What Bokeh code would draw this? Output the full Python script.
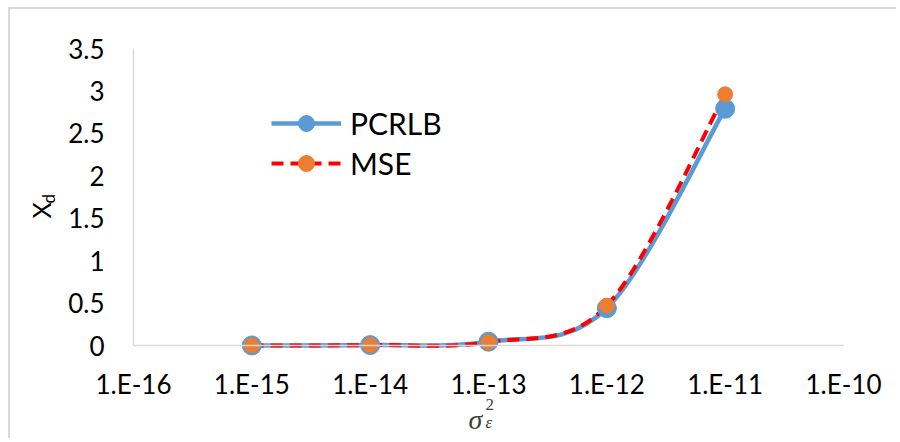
import numpy as np
from bokeh.plotting import figure
from bokeh.models import (Range1d, FixedTicker, CustomJSTickFormatter, NumeralTickFormatter,
                          Legend, LegendItem, Label, ColumnDataSource)
from bokeh.embed import file_html
from bokeh.resources import INLINE

# ---- data ----
x_vals = [1e-15, 1e-14, 1e-13, 1e-12, 1e-11]
pcrlb = [0.001, 0.005, 0.045, 0.44, 2.79]
mse = [0.001, 0.005, 0.04, 0.47, 2.96]
x_ticks = [1e-16, 1e-15, 1e-14, 1e-13, 1e-12, 1e-11, 1e-10]
y_ticks = [0, 0.5, 1, 1.5, 2, 2.5, 3, 3.5]
series_names = ["PCRLB", "MSE"]

BLUE = "#5B9BD5"
ORANGE = "#ED7D31"
RED = "#FF0000"
AXIS_GRAY = "#D9D9D9"
FONT = "Lato"

# ---- layout (pixels, relative to the canvas) ----
W, H = 888, 431
AX_X0, AX_X1 = 123, 833      # where x = 1e-16 and x = 1e-10 sit
AX_Y0, AX_Y1 = 95, 392       # where y = 0 and y = 3.5 sit (from canvas bottom)
ppd = (AX_X1 - AX_X0) / (np.log10(x_ticks[-1]) - np.log10(x_ticks[0]))
xmin = np.log10(x_ticks[0]) - AX_X0 / ppd
xmax = np.log10(x_ticks[-1]) + (W - AX_X1) / ppd
ppu = (AX_Y1 - AX_Y0) / (y_ticks[-1] - y_ticks[0])
ymin = y_ticks[0] - AX_Y0 / ppu
ymax = y_ticks[-1] + (H - AX_Y1) / ppu


def smooth_segments(xs, ys):
    """Bezier control points (Excel-like smoothing) computed in log10(x) space."""
    lx = np.log10(np.array(xs, dtype=float))
    y = np.array(ys, dtype=float)
    n = len(lx)
    d = {k: [] for k in ["x0", "y0", "x1", "y1", "cx0", "cy0", "cx1", "cy1"]}
    for i in range(n - 1):
        a = max(i - 1, 0)
        b = min(i + 2, n - 1)
        c1x = lx[i] + (lx[i + 1] - lx[a]) / 6.0
        c1y = y[i] + (y[i + 1] - y[a]) / 6.0
        c2x = lx[i + 1] - (lx[b] - lx[i]) / 6.0
        c2y = y[i + 1] - (y[b] - y[i]) / 6.0
        d["x0"].append(10 ** lx[i]); d["y0"].append(y[i])
        d["x1"].append(10 ** lx[i + 1]); d["y1"].append(y[i + 1])
        d["cx0"].append(10 ** c1x); d["cy0"].append(c1y)
        d["cx1"].append(10 ** c2x); d["cy1"].append(c2y)
    return ColumnDataSource(d)


p = figure(width=W, height=H, x_axis_type="log",
           x_range=Range1d(10 ** xmin, 10 ** xmax), y_range=Range1d(ymin, ymax),
           output_backend="svg", toolbar_location=None,
           min_border=0, min_border_left=0, min_border_right=0,
           min_border_top=0, min_border_bottom=0)
p.styles = {"margin-left": "8px", "margin-top": "7px",
            "border-left": "2px solid #D9D9D9", "border-top": "2px solid #D9D9D9"}
p.outline_line_color = None
p.background_fill_color = "white"
p.border_fill_color = "white"
p.xgrid.visible = False
p.ygrid.visible = False

# axes (fixed inside the frame)
p.xaxis.fixed_location = y_ticks[0]
p.xaxis.bounds = (x_ticks[0], x_ticks[-1])
p.yaxis.fixed_location = x_ticks[0]
p.yaxis.bounds = (y_ticks[0], y_ticks[-1])
p.xaxis.ticker = FixedTicker(ticks=x_ticks)
p.xaxis.formatter = CustomJSTickFormatter(code="return '1.E' + Math.round(Math.log10(tick));")
p.yaxis.ticker = FixedTicker(ticks=y_ticks)
p.yaxis.formatter = NumeralTickFormatter(format="0.[0]")
for ax in (p.xaxis, p.yaxis):
    ax.axis_line_color = AXIS_GRAY
    ax.axis_line_width = 1.5
    ax.major_tick_line_color = None
    ax.minor_tick_line_color = None
    ax.major_label_text_font = FONT
    ax.major_label_text_font_size = "26px"
    ax.major_label_text_color = "#000000"
p.xaxis.major_label_standoff = 16
p.yaxis.major_label_standoff = 23

# lines (smoothed)
src_p = smooth_segments(x_vals, pcrlb)
src_m = smooth_segments(x_vals, mse)
line_p = p.bezier(x0="x0", y0="y0", x1="x1", y1="y1", cx0="cx0", cy0="cy0", cx1="cx1", cy1="cy1",
                  source=src_p, line_color=BLUE, line_width=4.5)
line_m = p.bezier(x0="x0", y0="y0", x1="x1", y1="y1", cx0="cx0", cy0="cy0", cx1="cx1", cy1="cy1",
                  source=src_m, line_color=RED, line_width=4, line_dash="12 7")
mk_p = p.scatter(x_vals, pcrlb, size=19, marker="circle", fill_color=BLUE, line_color=BLUE)
mk_m = p.scatter(x_vals, mse, size=15, marker="circle", fill_color=ORANGE, line_color=ORANGE)

# legend
legend = Legend(items=[LegendItem(label=series_names[0], renderers=[line_p, mk_p]),
                       LegendItem(label=series_names[1], renderers=[line_m, mk_m])],
                location=(261, 257), orientation="vertical")
legend.glyph_width = 70
legend.glyph_height = 40
legend.label_height = 40
legend.label_standoff = 9
legend.spacing = 0
legend.padding = 0
legend.margin = 0
legend.border_line_color = None
legend.background_fill_alpha = 0
legend.label_text_font = FONT
legend.label_text_font_size = "30px"
legend.label_text_color = "#000000"
legend.label_text_baseline = "middle"
p.add_layout(legend, "center")

# x-axis title: sigma_epsilon^2
p.add_layout(Label(x=458, y=21, x_units="screen", y_units="screen", text="σ",
                   text_font="Liberation Serif", text_font_style="italic", text_font_size="28px",
                   text_color="#404040", text_baseline="alphabetic"))
p.add_layout(Label(x=475, y=18, x_units="screen", y_units="screen", text="ε",
                   text_font="Liberation Serif", text_font_style="italic", text_font_size="17px",
                   text_color="#404040", text_baseline="alphabetic"))
p.add_layout(Label(x=475, y=36, x_units="screen", y_units="screen", text="2",
                   text_font="Liberation Serif", text_font_size="17px",
                   text_color="#404040", text_baseline="alphabetic"))

# y-axis title: X_d (rotated, reading bottom to top)
p.add_layout(Label(x=30, y=222, x_units="screen", y_units="screen", text="X",
                   text_font=FONT, text_font_size="25px", text_color="#000000",
                   angle=np.pi / 2, text_baseline="alphabetic", text_align="left"))
p.add_layout(Label(x=38, y=237, x_units="screen", y_units="screen", text="d",
                   text_font=FONT, text_font_size="17px", text_color="#000000",
                   angle=np.pi / 2, text_baseline="alphabetic", text_align="left"))

open("out.html", "w").write(file_html(p, INLINE))
